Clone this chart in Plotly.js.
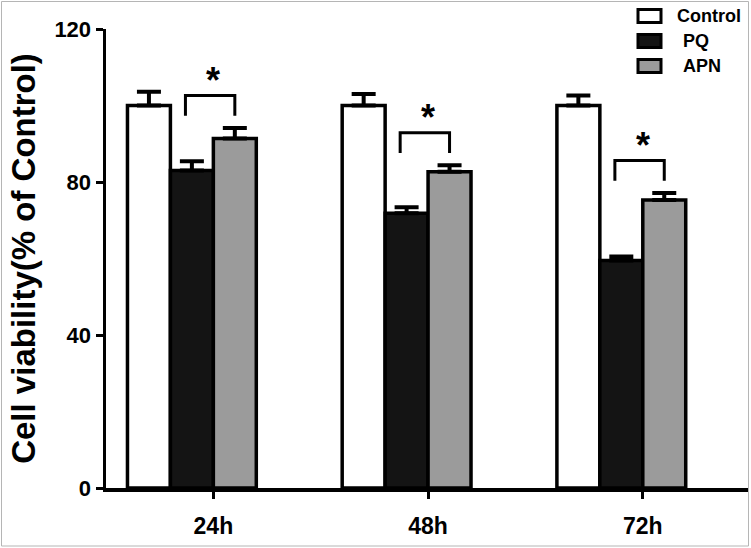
<!DOCTYPE html>
<html>
<head>
<meta charset="utf-8">
<script src="https://cdn.plot.ly/plotly-3.0.1.min.js"></script>
<style>
  html, body { margin: 0; padding: 0; background: #fff; }
  #chart { width: 751px; height: 548px; }
</style>
</head>
<body>
<div id="chart"></div>
<script>
// ---- data ----
const groups = ['24h', '48h', '72h'];
const seriesNames = ['Control', 'PQ', 'APN'];
const controlMean = [100, 100, 100];
const controlErr = [3.6, 3.0, 2.6];
const pqMean = [83.0, 71.8, 59.5];
const pqErr = [2.4, 1.6, 1.0];
const apnMean = [91.4, 82.7, 75.3];
const apnErr = [2.7, 1.7, 1.8];
const significance = ['*', '*', '*'];
const yTicks = [0, 40, 80, 120];
const yTitle = 'Cell viability(% of Control)';

// ---- layout constants (px) ----
const W = 751, H = 548;
const M = { l: 106, r: 3, t: 29, b: 60 };
const plotW = W - M.l - M.r, plotH = H - M.t - M.b;
const px2x = p => (p - M.l) / plotW;
const py2y = p => (H - M.b - p) / plotH;

const FONT = 'Liberation Sans, Arial, sans-serif';
const fills = ['#ffffff', '#141414', '#9b9b9b'];
const xIdx = groups.map((g, i) => i);
const zeros = groups.map(() => 0);

function barTrace(name, mean, err, fill) {
  return {
    type: 'bar', name: name, x: xIdx, y: mean,
    marker: { color: fill, line: { color: '#000', width: 3.5 } },
    error_y: { type: 'data', symmetric: false, array: err, arrayminus: zeros,
               color: '#000', thickness: 4, width: 12 },
    showlegend: false, hoverinfo: 'skip'
  };
}

const data = [
  barTrace(seriesNames[0], controlMean, controlErr, fills[0]),
  barTrace(seriesNames[1], pqMean, pqErr, fills[1]),
  barTrace(seriesNames[2], apnMean, apnErr, fills[2])
];

const shapes = [];
const annotations = [];

// significance brackets between PQ and APN
groups.forEach((g, i) => {
  const base = apnMean[i] + apnErr[i];
  const legY = base + 3.2, topY = base + 8.5;
  shapes.push({
    type: 'path', xref: 'x', yref: 'y',
    path: `M ${i - 0.03},${legY} V ${topY} H ${i + 0.2} V ${legY}`,
    line: { color: '#000', width: 3 }
  });
  annotations.push({
    xref: 'x', yref: 'y', x: i + 0.1, y: topY, yshift: 15,
    text: significance[i], showarrow: false, yanchor: 'middle',
    font: { family: FONT, size: 36, color: '#000', weight: 'bold' }
  });
});

// manual legend (top right)
const legendRows = [16, 41, 66];
const legendTextX = [675, 681, 681];
seriesNames.forEach((n, k) => {
  const cy = legendRows[k];
  shapes.push({
    type: 'rect', xref: 'paper', yref: 'paper',
    x0: px2x(638), x1: px2x(661), y0: py2y(cy - 6.5), y1: py2y(cy + 6.5),
    fillcolor: fills[k], line: { color: '#000', width: 3 }
  });
  annotations.push({
    xref: 'paper', yref: 'paper', x: px2x(legendTextX[k]), y: py2y(cy),
    xanchor: 'left', yanchor: 'middle', showarrow: false, text: n,
    font: { family: FONT, size: 18, color: '#000', weight: 'bold' }
  });
});

// image frame
shapes.push({
  type: 'rect', xref: 'paper', yref: 'paper',
  x0: px2x(1.5), x1: px2x(748.5), y0: py2y(546), y1: py2y(1.5),
  line: { color: '#b5b5b5', width: 1 }, fillcolor: 'rgba(0,0,0,0)'
});

const layout = {
  width: W, height: H,
  margin: M,
  paper_bgcolor: '#fff', plot_bgcolor: '#fff',
  barmode: 'group', bargap: 0.4, bargroupgap: 0,
  showlegend: false,
  xaxis: {
    range: [-0.4, 2.59], tickmode: 'array',
    tickvals: xIdx.map(v => v + 0.1), ticktext: groups,
    showline: true, linecolor: '#000', linewidth: 3.5,
    ticks: 'outside', ticklen: 7, tickwidth: 3, tickcolor: '#000',
    ticklabelstandoff: 8,
    tickfont: { family: FONT, size: 23, color: '#000', weight: 'bold' },
    showgrid: false, zeroline: false, fixedrange: true
  },
  yaxis: {
    range: [0, 120], tickmode: 'array', tickvals: yTicks,
    ticktext: yTicks.map(String),
    showline: true, linecolor: '#000', linewidth: 3.5,
    ticks: 'outside', ticklen: 7, tickwidth: 3, tickcolor: '#000',
    tickfont: { family: FONT, size: 22, color: '#000', weight: 'bold' },
    title: { text: yTitle, standoff: 10,
             font: { family: FONT, size: 33, color: '#000', weight: 'bold' } },
    showgrid: false, zeroline: false, fixedrange: true
  },
  shapes: shapes,
  annotations: annotations
};

Plotly.newPlot('chart', data, layout, { displayModeBar: false, staticPlot: true });
</script>
</body>
</html>
